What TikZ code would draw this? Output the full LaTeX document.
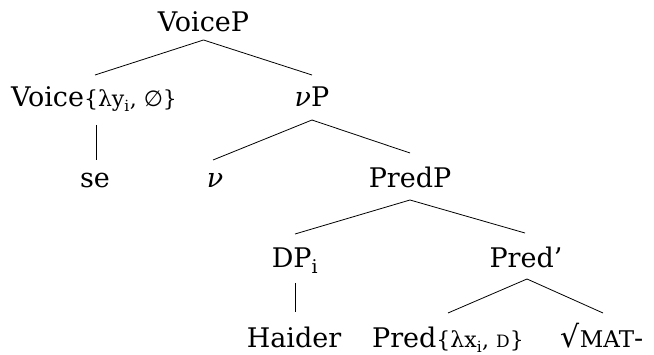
\documentclass[tikz,border=0pt]{standalone}
\usepackage{fontspec}
\setmainfont{DejaVu Serif}
\newfontfamily\symf{DejaVu Sans}
\usetikzlibrary{calc}
\newcommand{\smpart}[1]{{\fontsize{22}{25}\selectfont #1}}
\newcommand{\fakesc}[1]{{\fontsize{23}{25}\selectfont #1}}
\newcommand{\fakescs}[1]{{\fontsize{17}{19}\selectfont #1}}
\begin{document}
\begin{tikzpicture}[x=1pt,y=-1pt,
  every node/.style={inner sep=0pt, anchor=base, font=\fontsize{27}{31}\selectfont},
  edge/.style={draw=black, line width=0.8pt}]
\useasboundingbox (0,0) rectangle (654,355);
% nodes
\node (voicep) at (203.5,32) {VoiceP};
\node (voice) at (94,107) {Voice\smpart{\{λy\textsubscript{i}, {\symf ∅}\}}};
\node (vp) at (312,107) {\textit{ν}P};
\node (se) at (95,188) {se};
\node (v) at (215,188) {\textit{ν}};
\node (predp) at (410,188) {PredP};
\node (dp) at (295,268) {DP\textsubscript{i}};
\node (predbar) at (526,268) {Pred’};
\node (haider) at (294,348) {Haider};
\node (pred) at (448,348) {Pred\smpart{\{λx\textsubscript{i}, \fakescs{D}\}}};
\node (root) at (602,348) {{\symf\fontsize{30}{32}\selectfont √}\fakesc{MAT}-};
% edges
\draw[edge] ($(voicep.base)+(0,8)$) -- ($(voice.base)+(1,-32)$);
\draw[edge] ($(voicep.base)+(0,8)$) -- ($(vp.base)+(0,-32)$);
\draw[edge] ($(voice.base)+(2,18)$) -- ($(se.base)+(1,-28)$);
\draw[edge] ($(vp.base)+(0,13)$) -- ($(v.base)+(-2,-28)$);
\draw[edge] ($(vp.base)+(0,13)$) -- ($(predp.base)+(0,-35)$);
\draw[edge] ($(predp.base)+(0,12)$) -- ($(dp.base)+(0,-34)$);
\draw[edge] ($(predp.base)+(0,12)$) -- ($(predbar.base)+(-1,-35)$);
\draw[edge] ($(dp.base)+(0,15)$) -- ($(haider.base)+(1,-36)$);
\draw[edge] ($(predbar.base)+(1,11)$) -- ($(pred.base)+(0,-35)$);
\draw[edge] ($(predbar.base)+(1,11)$) -- ($(root.base)+(1,-35)$);
\end{tikzpicture}
\end{document}
